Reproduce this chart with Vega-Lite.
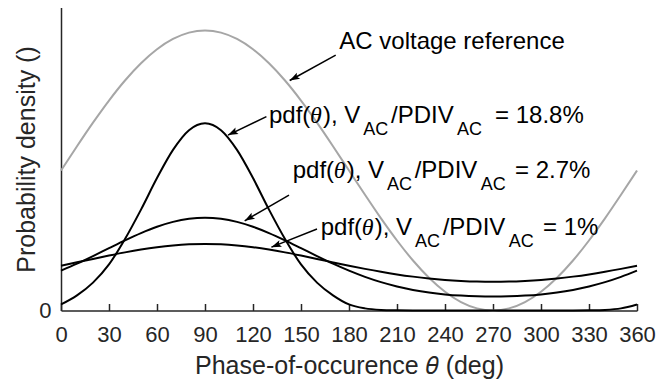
{
  "$schema": "https://vega.github.io/schema/vega-lite/v6.json",
  "autosize": {"type": "none"},
  "width": 576,
  "height": 303,
  "padding": {"left": 61, "top": 7.5, "right": 19, "bottom": 70.5},
  "background": "white",
  "config": {"view": {"stroke": null}, "font": "Liberation Sans"},
  "datasets": {
    "reference": [
      {"theta": 0, "density": 0.462}, {"theta": 10, "density": 0.5422}, {"theta": 20, "density": 0.62},
      {"theta": 30, "density": 0.693}, {"theta": 40, "density": 0.759}, {"theta": 50, "density": 0.8159},
      {"theta": 60, "density": 0.8621}, {"theta": 70, "density": 0.8961}, {"theta": 80, "density": 0.917},
      {"theta": 90, "density": 0.924}, {"theta": 100, "density": 0.917}, {"theta": 110, "density": 0.8961},
      {"theta": 120, "density": 0.8621}, {"theta": 130, "density": 0.8159}, {"theta": 140, "density": 0.759},
      {"theta": 150, "density": 0.693}, {"theta": 160, "density": 0.62}, {"theta": 170, "density": 0.5422},
      {"theta": 180, "density": 0.462}, {"theta": 190, "density": 0.3818}, {"theta": 200, "density": 0.304},
      {"theta": 210, "density": 0.231}, {"theta": 220, "density": 0.165}, {"theta": 230, "density": 0.1081},
      {"theta": 240, "density": 0.0619}, {"theta": 250, "density": 0.0279}, {"theta": 260, "density": 0.007},
      {"theta": 270, "density": 0}, {"theta": 280, "density": 0.007}, {"theta": 290, "density": 0.0279},
      {"theta": 300, "density": 0.0619}, {"theta": 310, "density": 0.1081}, {"theta": 320, "density": 0.165},
      {"theta": 330, "density": 0.231}, {"theta": 340, "density": 0.304}, {"theta": 350, "density": 0.3818},
      {"theta": 360, "density": 0.462}
    ],
    "pdf": [
      {"series": "18.8%", "theta": 0, "density": 0.02}, {"series": "18.8%", "theta": 10, "density": 0.05},
      {"series": "18.8%", "theta": 20, "density": 0.092}, {"series": "18.8%", "theta": 30, "density": 0.152},
      {"series": "18.8%", "theta": 40, "density": 0.236}, {"series": "18.8%", "theta": 50, "density": 0.333},
      {"series": "18.8%", "theta": 60, "density": 0.437}, {"series": "18.8%", "theta": 70, "density": 0.53},
      {"series": "18.8%", "theta": 80, "density": 0.595}, {"series": "18.8%", "theta": 90, "density": 0.618},
      {"series": "18.8%", "theta": 100, "density": 0.595}, {"series": "18.8%", "theta": 110, "density": 0.53},
      {"series": "18.8%", "theta": 120, "density": 0.437}, {"series": "18.8%", "theta": 130, "density": 0.333},
      {"series": "18.8%", "theta": 140, "density": 0.236}, {"series": "18.8%", "theta": 150, "density": 0.152},
      {"series": "18.8%", "theta": 160, "density": 0.092}, {"series": "18.8%", "theta": 170, "density": 0.05},
      {"series": "18.8%", "theta": 180, "density": 0.02}, {"series": "18.8%", "theta": 190, "density": 0.007},
      {"series": "18.8%", "theta": 200, "density": 0.002}, {"series": "18.8%", "theta": 210, "density": 0.0005},
      {"series": "18.8%", "theta": 220, "density": 0}, {"series": "18.8%", "theta": 230, "density": 0},
      {"series": "18.8%", "theta": 240, "density": 0}, {"series": "18.8%", "theta": 250, "density": 0},
      {"series": "18.8%", "theta": 260, "density": 0}, {"series": "18.8%", "theta": 270, "density": 0},
      {"series": "18.8%", "theta": 280, "density": 0}, {"series": "18.8%", "theta": 290, "density": 0},
      {"series": "18.8%", "theta": 300, "density": 0}, {"series": "18.8%", "theta": 310, "density": 0},
      {"series": "18.8%", "theta": 320, "density": 0}, {"series": "18.8%", "theta": 330, "density": 0.0005},
      {"series": "18.8%", "theta": 340, "density": 0.002}, {"series": "18.8%", "theta": 350, "density": 0.007},
      {"series": "18.8%", "theta": 360, "density": 0.02},

      {"series": "2.7%", "theta": 0, "density": 0.1315}, {"series": "2.7%", "theta": 10, "density": 0.1546},
      {"series": "2.7%", "theta": 20, "density": 0.1797}, {"series": "2.7%", "theta": 30, "density": 0.2058},
      {"series": "2.7%", "theta": 40, "density": 0.2316}, {"series": "2.7%", "theta": 50, "density": 0.2556},
      {"series": "2.7%", "theta": 60, "density": 0.2764}, {"series": "2.7%", "theta": 70, "density": 0.2924},
      {"series": "2.7%", "theta": 80, "density": 0.3025}, {"series": "2.7%", "theta": 90, "density": 0.306},
      {"series": "2.7%", "theta": 100, "density": 0.3025}, {"series": "2.7%", "theta": 110, "density": 0.2924},
      {"series": "2.7%", "theta": 120, "density": 0.2764}, {"series": "2.7%", "theta": 130, "density": 0.2556},
      {"series": "2.7%", "theta": 140, "density": 0.2316}, {"series": "2.7%", "theta": 150, "density": 0.2058},
      {"series": "2.7%", "theta": 160, "density": 0.1797}, {"series": "2.7%", "theta": 170, "density": 0.1546},
      {"series": "2.7%", "theta": 180, "density": 0.1315}, {"series": "2.7%", "theta": 190, "density": 0.1111},
      {"series": "2.7%", "theta": 200, "density": 0.0936}, {"series": "2.7%", "theta": 210, "density": 0.0794},
      {"series": "2.7%", "theta": 220, "density": 0.068}, {"series": "2.7%", "theta": 230, "density": 0.0594},
      {"series": "2.7%", "theta": 240, "density": 0.0532}, {"series": "2.7%", "theta": 250, "density": 0.0491},
      {"series": "2.7%", "theta": 260, "density": 0.0467}, {"series": "2.7%", "theta": 270, "density": 0.0459},
      {"series": "2.7%", "theta": 280, "density": 0.0467}, {"series": "2.7%", "theta": 290, "density": 0.0491},
      {"series": "2.7%", "theta": 300, "density": 0.0532}, {"series": "2.7%", "theta": 310, "density": 0.0594},
      {"series": "2.7%", "theta": 320, "density": 0.068}, {"series": "2.7%", "theta": 330, "density": 0.0794},
      {"series": "2.7%", "theta": 340, "density": 0.0936}, {"series": "2.7%", "theta": 350, "density": 0.1111},
      {"series": "2.7%", "theta": 360, "density": 0.1315},

      {"series": "1%", "theta": 0, "density": 0.1479}, {"series": "1%", "theta": 10, "density": 0.1589},
      {"series": "1%", "theta": 20, "density": 0.1702}, {"series": "1%", "theta": 30, "density": 0.1813},
      {"series": "1%", "theta": 40, "density": 0.1918}, {"series": "1%", "theta": 50, "density": 0.2012},
      {"series": "1%", "theta": 60, "density": 0.209}, {"series": "1%", "theta": 70, "density": 0.2149},
      {"series": "1%", "theta": 80, "density": 0.2186}, {"series": "1%", "theta": 90, "density": 0.2198},
      {"series": "1%", "theta": 100, "density": 0.2186}, {"series": "1%", "theta": 110, "density": 0.2149},
      {"series": "1%", "theta": 120, "density": 0.209}, {"series": "1%", "theta": 130, "density": 0.2012},
      {"series": "1%", "theta": 140, "density": 0.1918}, {"series": "1%", "theta": 150, "density": 0.1813},
      {"series": "1%", "theta": 160, "density": 0.1702}, {"series": "1%", "theta": 170, "density": 0.1589},
      {"series": "1%", "theta": 180, "density": 0.1479}, {"series": "1%", "theta": 190, "density": 0.1374},
      {"series": "1%", "theta": 200, "density": 0.1277}, {"series": "1%", "theta": 210, "density": 0.1191},
      {"series": "1%", "theta": 220, "density": 0.1118}, {"series": "1%", "theta": 230, "density": 0.1057},
      {"series": "1%", "theta": 240, "density": 0.101}, {"series": "1%", "theta": 250, "density": 0.0977},
      {"series": "1%", "theta": 260, "density": 0.0956}, {"series": "1%", "theta": 270, "density": 0.095},
      {"series": "1%", "theta": 280, "density": 0.0956}, {"series": "1%", "theta": 290, "density": 0.0977},
      {"series": "1%", "theta": 300, "density": 0.101}, {"series": "1%", "theta": 310, "density": 0.1057},
      {"series": "1%", "theta": 320, "density": 0.1118}, {"series": "1%", "theta": 330, "density": 0.1191},
      {"series": "1%", "theta": 340, "density": 0.1277}, {"series": "1%", "theta": 350, "density": 0.1374},
      {"series": "1%", "theta": 360, "density": 0.1479}
    ],
    "arrows": [
      {"arrow": "reference", "theta": 171.69, "density": 0.843, "theta2": 142.94, "density2": 0.759},
      {"arrow": "18.8%", "theta": 128.38, "density": 0.64, "theta2": 104.38, "density2": 0.579},
      {"arrow": "2.7%", "theta": 142.5, "density": 0.381, "theta2": 114.81, "density2": 0.296},
      {"arrow": "1%", "theta": 160.0, "density": 0.269, "theta2": 131.5, "density2": 0.209}
    ],
    "labels": [
      {"piece": "text", "theta": 173.94, "density": 0.862, "text": "AC voltage reference"},

      {"piece": "text", "theta": 130.0, "density": 0.6178, "text": "pdf("},
      {"piece": "symbol", "theta": 155.63, "density": 0.6178, "text": "θ"},
      {"piece": "text", "theta": 163.75, "density": 0.6178, "text": "), V"},
      {"piece": "subscript", "theta": 188.94, "density": 0.5776, "text": "AC"},
      {"piece": "text", "theta": 206.25, "density": 0.6178, "text": "/PDIV"},
      {"piece": "subscript", "theta": 247.5, "density": 0.5776, "text": "AC"},
      {"piece": "text", "theta": 271.25, "density": 0.6178, "text": "= 18.8%"},

      {"piece": "text", "theta": 144.81, "density": 0.4373, "text": "pdf("},
      {"piece": "symbol", "theta": 170.44, "density": 0.4373, "text": "θ"},
      {"piece": "text", "theta": 178.56, "density": 0.4373, "text": "), V"},
      {"piece": "subscript", "theta": 203.75, "density": 0.3977, "text": "AC"},
      {"piece": "text", "theta": 221.06, "density": 0.4373, "text": "/PDIV"},
      {"piece": "subscript", "theta": 262.31, "density": 0.3977, "text": "AC"},
      {"piece": "text", "theta": 283.75, "density": 0.4373, "text": "= 2.7%"},

      {"piece": "text", "theta": 162.31, "density": 0.2492, "text": "pdf("},
      {"piece": "symbol", "theta": 187.94, "density": 0.2492, "text": "θ"},
      {"piece": "text", "theta": 196.06, "density": 0.2492, "text": "), V"},
      {"piece": "subscript", "theta": 221.25, "density": 0.2096, "text": "AC"},
      {"piece": "text", "theta": 238.56, "density": 0.2492, "text": "/PDIV"},
      {"piece": "subscript", "theta": 279.81, "density": 0.2096, "text": "AC"},
      {"piece": "text", "theta": 301.25, "density": 0.2492, "text": "= 1%"}
    ]
  },
  "encoding": {
    "x": {
      "field": "theta",
      "type": "quantitative",
      "scale": {"domain": [0, 360], "nice": false, "zero": false},
      "axis": {
        "values": [0, 30, 60, 90, 120, 150, 180, 210, 240, 270, 300, 330, 360],
        "title": "Phase-of-occurence 𝜃 (deg)",
        "grid": false,
        "labelFont": "Liberation Sans",
        "titleFont": "Liberation Sans",
        "labelFontSize": 22,
        "titleFontSize": 25,
        "titleFontWeight": "normal",
        "labelColor": "#262626",
        "titleColor": "#262626",
        "domainColor": "#262626",
        "tickColor": "#262626",
        "domainWidth": 1.5,
        "tickWidth": 1.5,
        "tickSize": -7,
        "labelPadding": 21,
        "labelFlush": false,
        "labelOverlap": false,
        "titlePadding": 8
      }
    },
    "y": {
      "field": "density",
      "type": "quantitative",
      "scale": {"domain": [0, 1], "nice": false},
      "axis": {
        "values": [0],
        "title": "Probability density ()",
        "grid": false,
        "ticks": false,
        "labelFont": "Liberation Sans",
        "titleFont": "Liberation Sans",
        "labelFontSize": 22,
        "titleFontSize": 25,
        "titleFontWeight": "normal",
        "labelColor": "#262626",
        "titleColor": "#262626",
        "domainColor": "#262626",
        "domainWidth": 1.5,
        "labelPadding": 10,
        "labelFlush": false,
        "titlePadding": -1
      }
    }
  },
  "layer": [
    {
      "data": {"name": "reference"},
      "mark": {"type": "line", "interpolate": "monotone", "color": "#a6a6a6", "strokeWidth": 2}
    },
    {
      "data": {"name": "pdf"},
      "mark": {"type": "line", "interpolate": "monotone", "color": "#000000", "strokeWidth": 2},
      "encoding": {"detail": {"field": "series"}}
    },
    {
      "data": {"name": "arrows"},
      "mark": {"type": "rule", "color": "#000000", "strokeWidth": 1.5},
      "encoding": {"x2": {"field": "theta2"}, "y2": {"field": "density2"}}
    },
    {
      "data": {"name": "arrows"},
      "transform": [{"filter": "datum.arrow === 'reference'"}],
      "mark": {"type": "point", "shape": "M0,0L0.35,1L0,0.8L-0.35,1Z", "filled": true, "color": "#000000", "opacity": 1, "size": 400, "angle": 241.5},
      "encoding": {"x": {"field": "theta2", "type": "quantitative"}, "y": {"field": "density2", "type": "quantitative"}}
    },
    {
      "data": {"name": "arrows"},
      "transform": [{"filter": "datum.arrow === '18.8%'"}],
      "mark": {"type": "point", "shape": "M0,0L0.35,1L0,0.8L-0.35,1Z", "filled": true, "color": "#000000", "opacity": 1, "size": 400, "angle": 244.5},
      "encoding": {"x": {"field": "theta2", "type": "quantitative"}, "y": {"field": "density2", "type": "quantitative"}}
    },
    {
      "data": {"name": "arrows"},
      "transform": [{"filter": "datum.arrow === '2.7%'"}],
      "mark": {"type": "point", "shape": "M0,0L0.35,1L0,0.8L-0.35,1Z", "filled": true, "color": "#000000", "opacity": 1, "size": 400, "angle": 239.9},
      "encoding": {"x": {"field": "theta2", "type": "quantitative"}, "y": {"field": "density2", "type": "quantitative"}}
    },
    {
      "data": {"name": "arrows"},
      "transform": [{"filter": "datum.arrow === '1%'"}],
      "mark": {"type": "point", "shape": "M0,0L0.35,1L0,0.8L-0.35,1Z", "filled": true, "color": "#000000", "opacity": 1, "size": 400, "angle": 248},
      "encoding": {"x": {"field": "theta2", "type": "quantitative"}, "y": {"field": "density2", "type": "quantitative"}}
    },
    {
      "data": {"name": "labels"},
      "transform": [{"filter": "datum.piece === 'text'"}],
      "mark": {"type": "text", "align": "left", "baseline": "alphabetic", "font": "Liberation Sans", "fontSize": 24, "color": "#000000"},
      "encoding": {"text": {"field": "text"}}
    },
    {
      "data": {"name": "labels"},
      "transform": [{"filter": "datum.piece === 'symbol'"}],
      "mark": {"type": "text", "align": "left", "baseline": "alphabetic", "font": "Liberation Serif", "fontStyle": "italic", "fontSize": 24, "color": "#000000"},
      "encoding": {"text": {"field": "text"}}
    },
    {
      "data": {"name": "labels"},
      "transform": [{"filter": "datum.piece === 'subscript'"}],
      "mark": {"type": "text", "align": "left", "baseline": "alphabetic", "font": "Liberation Sans", "fontSize": 18, "color": "#000000"},
      "encoding": {"text": {"field": "text"}}
    }
  ]
}
